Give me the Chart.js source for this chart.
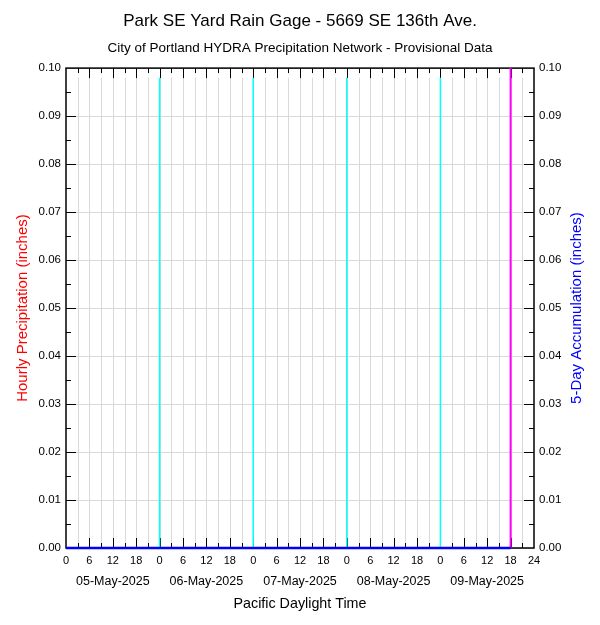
<!DOCTYPE html>
<html>
<head>
<meta charset="utf-8">
<script src="https://cdn.jsdelivr.net/npm/chart.js@4"></script>
<style>
  html, body { margin: 0; padding: 0; background: #fff; }
</style>
</head>
<body>
<canvas id="rain" width="600" height="625"></canvas>
<script>
// data
const dayLabels = ['05-May-2025', '06-May-2025', '07-May-2025', '08-May-2025', '09-May-2025'];
const dayNoonHours = [12, 36, 60, 84, 108];
const dayStartHours = [24, 48, 72, 96];
const hourTicks = [0, 6, 12, 18, 24, 30, 36, 42, 48, 54, 60, 66, 72, 78, 84, 90, 96, 102, 108, 114, 120];
const hourTickLabels = ['0', '6', '12', '18', '0', '6', '12', '18', '0', '6', '12', '18', '0', '6', '12', '18', '0', '6', '12', '18', '24'];
const yTicks = [0, 0.01, 0.02, 0.03, 0.04, 0.05, 0.06, 0.07, 0.08, 0.09, 0.10];

// hourly rain, no rain recorded in the window
const hourlyPrecip = [
    0, 0, 0, 0, 0, 0, 0, 0, 0, 0, 0, 0, 0, 0, 0, 0, 0, 0, 0, 0, 0, 0, 0, 0,
    0, 0, 0, 0, 0, 0, 0, 0, 0, 0, 0, 0, 0, 0, 0, 0, 0, 0, 0, 0, 0, 0, 0, 0,
    0, 0, 0, 0, 0, 0, 0, 0, 0, 0, 0, 0, 0, 0, 0, 0, 0, 0, 0, 0, 0, 0, 0, 0,
    0, 0, 0, 0, 0, 0, 0, 0, 0, 0, 0, 0, 0, 0, 0, 0, 0, 0, 0, 0, 0, 0, 0, 0,
    0, 0, 0, 0, 0, 0, 0, 0, 0, 0, 0, 0, 0, 0, 0, 0, 0, 0
];
const accumHours = [0, 114];
const accumValues = [0, 0];
const nowHour = 114;
const dayLineTop = 0.098;

const FONT = '"Liberation Sans", Arial, Helvetica, sans-serif';

{
    const fixWidth = w => scale => { scale.width = w; };
    const fixHeight = h => scale => { scale.height = h; };

    // grid, frame, inward tick marks and the two axis titles
    const frame = {
        id: 'frame',
        beforeDatasetsDraw(chart) {
            const { ctx, chartArea: a, scales: { x, y } } = chart;
            ctx.save();
            ctx.strokeStyle = '#d9d9d9';
            ctx.lineWidth = 1;
            for (let h = 3; h < 120; h += 3) {
                const px = Math.round(x.getPixelForValue(h)) + 0.5;
                ctx.beginPath();
                ctx.moveTo(px, y.getPixelForValue(0));
                ctx.lineTo(px, y.getPixelForValue(dayLineTop));
                ctx.stroke();
            }
            ctx.strokeStyle = '#000';
            ctx.beginPath();
            for (let h = 3; h < 120; h += 3) {
                const px = Math.round(x.getPixelForValue(h)) + 0.5;
                const len = h % 6 === 0 ? 10 : 5;
                ctx.moveTo(px, a.bottom); ctx.lineTo(px, a.bottom - len);
                ctx.moveTo(px, a.top); ctx.lineTo(px, a.top + len);
            }
            for (let i = 1; i < 20; i++) {
                const py = Math.round(y.getPixelForValue(i * 0.005)) + 0.5;
                const len = i % 2 === 0 ? 10 : 5;
                ctx.moveTo(a.left, py); ctx.lineTo(a.left + len, py);
                ctx.moveTo(a.right, py); ctx.lineTo(a.right - len, py);
            }
            ctx.stroke();
            ctx.lineWidth = 1.5;
            ctx.strokeRect(a.left, a.top, a.right - a.left, a.bottom - a.top);
            ctx.restore();
        },
        afterDraw(chart) {
            const { ctx, chartArea: a } = chart;
            const midY = (a.top + a.bottom) / 2;
            ctx.save();
            ctx.font = '15px ' + FONT;
            ctx.textAlign = 'center';
            ctx.textBaseline = 'middle';
            [[23, '#ff0000', 'Hourly Precipitation (inches)'],
             [577, '#0000ff', '5-Day Accumulation (inches)']].forEach(([px, color, text]) => {
                ctx.save();
                ctx.translate(px, midY);
                ctx.rotate(-Math.PI / 2);
                ctx.fillStyle = color;
                ctx.fillText(text, 0, 0);
                ctx.restore();
            });
            ctx.restore();
        }
    };

    document.addEventListener('DOMContentLoaded', () => {
        const datasets = [
            {
                type: 'line',
                label: '5-Day Accumulation',
                data: accumHours.map((h, i) => ({ x: h, y: accumValues[i] })),
                yAxisID: 'y2',
                borderColor: '#0000ff',
                borderWidth: 2.5,
                pointRadius: 0,
                clip: false,
                order: 1
            },
            {
                type: 'line',
                label: 'Now',
                data: [{ x: nowHour, y: 0 }, { x: nowHour, y: 0.1 }],
                borderColor: '#ff00ff',
                borderWidth: 2,
                pointRadius: 0,
                order: 2
            },
            ...dayStartHours.map(h => ({
                type: 'line',
                label: 'Day ' + h,
                data: [{ x: h, y: 0 }, { x: h, y: dayLineTop }],
                borderColor: '#00ffff',
                borderWidth: 1.5,
                pointRadius: 0,
                order: 3
            })),
            {
                type: 'bar',
                label: 'Hourly Precipitation',
                data: hourlyPrecip.map((v, i) => ({ x: i + 0.5, y: v })),
                backgroundColor: '#ff0000',
                barThickness: 3,
                order: 4
            }
        ];

        new Chart(document.getElementById('rain'), {
            data: { datasets },
            options: {
                responsive: false,
                animation: false,
                layout: { padding: 0 },
                plugins: {
                    legend: { display: false },
                    tooltip: { enabled: false },
                    title: {
                        display: true,
                        text: 'Park SE Yard Rain Gage - 5669 SE 136th Ave.',
                        color: '#000',
                        font: { family: FONT, size: 17, weight: 'normal' },
                        padding: { top: 11.4, bottom: 0 }
                    },
                    subtitle: {
                        display: true,
                        text: 'City of Portland HYDRA Precipitation Network - Provisional Data',
                        color: '#000',
                        font: { family: FONT, size: 13.5, weight: 'normal' },
                        padding: { top: 8.1, bottom: 12 }
                    }
                },
                scales: {
                    x: {
                        type: 'linear',
                        position: 'bottom',
                        offset: false,
                        min: 0,
                        max: 120,
                        afterBuildTicks: s => { s.ticks = hourTicks.map(v => ({ value: v })); },
                        afterFit: fixHeight(20),
                        grid: { display: false, drawTicks: false, offset: false },
                        border: { display: false },
                        ticks: {
                            color: '#000',
                            padding: 6,
                            maxRotation: 0,
                            autoSkip: false,
                            font: { family: FONT, size: 11 },
                            callback: (v, i) => hourTickLabels[i]
                        }
                    },
                    xDate: {
                        type: 'linear',
                        position: 'bottom',
                        offset: false,
                        min: 0,
                        max: 120,
                        afterBuildTicks: s => { s.ticks = dayNoonHours.map(v => ({ value: v })); },
                        afterFit: fixHeight(57),
                        grid: { display: false, drawTicks: false, offset: false },
                        border: { display: false },
                        ticks: {
                            color: '#000',
                            padding: 6,
                            maxRotation: 0,
                            autoSkip: false,
                            font: { family: FONT, size: 12.5 },
                            callback: (v, i) => dayLabels[i]
                        },
                        title: {
                            display: true,
                            text: 'Pacific Daylight Time',
                            color: '#000',
                            font: { family: FONT, size: 14.3 },
                            padding: { top: 0, bottom: 12 }
                        }
                    },
                    y: {
                        position: 'left',
                        min: 0,
                        max: 0.1,
                        afterBuildTicks: s => { s.ticks = yTicks.map(v => ({ value: v })); },
                        afterFit: fixWidth(66),
                        grid: { color: '#d9d9d9', drawTicks: false },
                        border: { display: false },
                        ticks: {
                            color: '#000',
                            padding: 5,
                            font: { family: FONT, size: 11.5 },
                            callback: v => v.toFixed(2)
                        }
                    },
                    y2: {
                        position: 'right',
                        min: 0,
                        max: 0.1,
                        afterBuildTicks: s => { s.ticks = yTicks.map(v => ({ value: v })); },
                        afterFit: fixWidth(66),
                        grid: { display: false, drawTicks: false },
                        border: { display: false },
                        ticks: {
                            color: '#000',
                            padding: 5,
                            font: { family: FONT, size: 11.5 },
                            callback: v => v.toFixed(2)
                        }
                    }
                }
            },
            plugins: [frame]
        });
    });
}
</script>
</body>
</html>
